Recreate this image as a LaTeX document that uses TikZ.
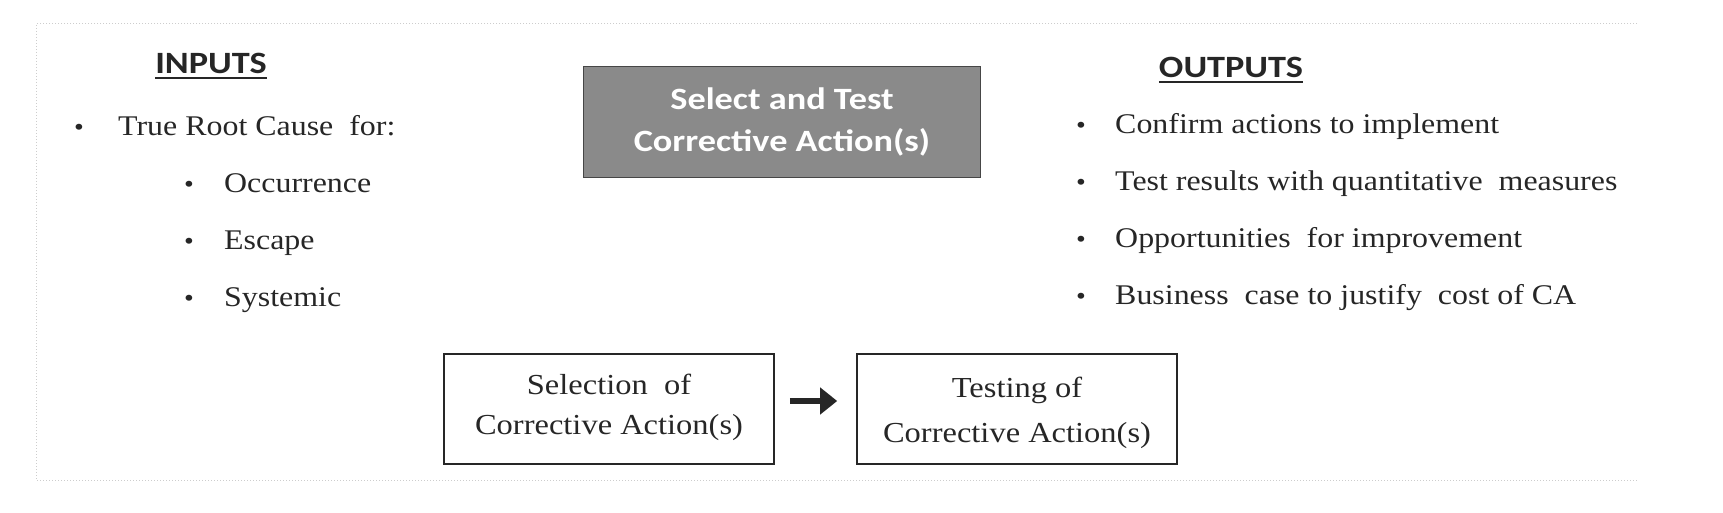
\documentclass[tikz,border=0pt]{standalone}
\usepackage{fontspec}
\setmainfont{Liberation Serif}[FakeStretch=1.12]
\newfontfamily\headfont{Carlito}[FakeStretch=1.17]
\usetikzlibrary{arrows.meta}
\definecolor{boxgray}{RGB}{138,138,138}
\definecolor{boxedge}{RGB}{70,70,70}
\definecolor{framegray}{RGB}{205,205,205}
\tikzset{
  heading/.style={font=\headfont\bfseries\fontsize{31}{33}\selectfont, text=black!85, inner sep=0pt, anchor=mid},
  bodytext/.style={font=\fontsize{28.5}{32}\selectfont, text=black!85, inner sep=0pt, anchor=mid west},
  bul/.style={font=\fontsize{25}{26}\selectfont, text=black!85, inner sep=0pt, anchor=mid},
  stepbox/.style={draw=black!85, line width=1.6pt, minimum width=330pt, minimum height=110pt, inner sep=0pt},
  steptext/.style={font=\fontsize{29}{40}\selectfont, text=black!85, align=center, inner sep=0pt},
  mainbox/.style={draw=boxedge, line width=1.6pt, fill=boxgray, text=white, font=\headfont\bfseries\fontsize{31}{42}\selectfont, align=center, minimum width=397pt, minimum height=111pt, inner sep=0pt},
  frame/.style={draw=framegray, line width=1pt, dotted},
  uline/.style={line width=1.6pt, black!85}
}
\begin{document}
\begin{tikzpicture}[x=1pt,y=-1pt]
\useasboundingbox (0,0) rectangle (1723,513);
% frame
\draw[frame] (1637,24) -- (36,24) -- (36,480) -- (1637,480);
% inputs
\node[heading] (inp) at (211,71) {INPUTS};
\draw[uline] ([yshift=-4pt]inp.south west) -- ([yshift=-4pt]inp.south east);
\node[bul] (b1) at (79,133) {•};
\node[bodytext] (t1) at (118,133) {True Root Cause\ \ for:};
\node[bul] (b2) at (189,190) {•};
\node[bodytext] (t2) at (224,190) {Occurrence};
\node[bul] (b3) at (189,247) {•};
\node[bodytext] (t3) at (224,247) {Escape};
\node[bul] (b4) at (189,304) {•};
\node[bodytext] (t4) at (224,304) {Systemic};
% main box
\node[mainbox] (main) at (782,122) {Select and Test\\Corrective Action(s)};
% outputs
\node[heading] (out) at (1231,75) {OUTPUTS};
\draw[uline] ([yshift=-4pt]out.south west) -- ([yshift=-4pt]out.south east);
\node[bul] (o1) at (1081,131) {•};
\node[bodytext] (u1) at (1115,131) {Confirm actions to implement};
\node[bul] (o2) at (1081,188) {•};
\node[bodytext] (u2) at (1115,188) {Test results with quantitative\ \ measures};
\node[bul] (o3) at (1081,245) {•};
\node[bodytext] (u3) at (1115,245) {Opportunities\ \ for improvement};
\node[bul] (o4) at (1081,302) {•};
\node[bodytext] (u4) at (1115,302) {Business\ \ case to justify\ \ cost of CA};
% bottom boxes
\node[stepbox] (sel) at (609,409) {};
\node[steptext] (selt) at ([yshift=2pt]sel.center) {Selection\ \ of\\Corrective Action(s)};
\node[stepbox, minimum width=320pt] (tst) at (1017,409) {};
\node[steptext, font=\fontsize{29}{45}\selectfont] (tstt) at ([yshift=-4pt]tst.center) {Testing of\\Corrective Action(s)};
\draw[line width=6pt, black!85, -{Triangle[length=17pt,width=26pt]}, shorten <=15pt, shorten >=19pt] ([yshift=8pt]sel.east) -- ([yshift=8pt]tst.west);
\end{tikzpicture}
\end{document}
